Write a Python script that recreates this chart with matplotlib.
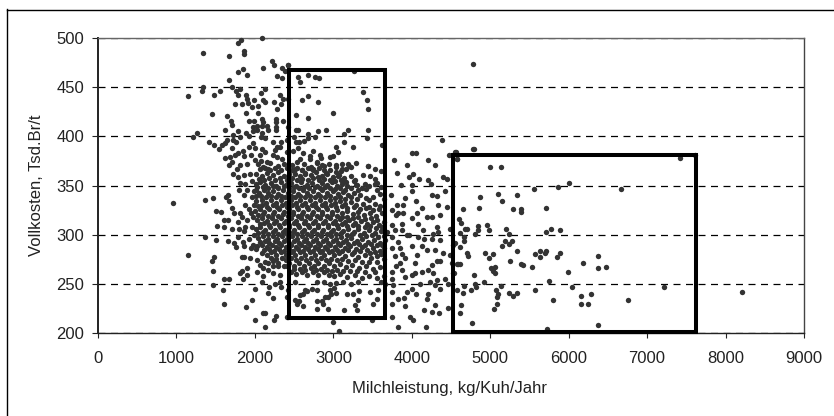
import matplotlib
matplotlib.use("Agg")
import matplotlib.pyplot as plt
from matplotlib.patches import Rectangle
from matplotlib.lines import Line2D

plt.rcParams['font.family'] = ['Liberation Sans', 'DejaVu Sans']

x_label = "Milchleistung, kg/Kuh/Jahr"
y_label = "Vollkosten, Tsd.Br/t"
x_ticks = [0, 1000, 2000, 3000, 4000, 5000, 6000, 7000, 8000, 9000]
y_ticks = [200, 250, 300, 350, 400, 450, 500]
box_low = (2436, 215, 3660, 467)
box_high = (4528, 201, 7628, 381)

upper_left = [(1343,485),(1675,482),(1789,495),(1819,498),(2091,500),(1866,487),(1866,484),(2214,477),(2248,473),(2108,470),(2342,470),(2423,473),(2384,466),(1849,468),(1781,465),(1900,462),(2278,461),(2342,459),(1675,457),(1343,450),(1326,446),(1551,446),(1483,442),(1152,441),(1708,450),(1760,446),(1810,448),(1781,442),(2125,448),(2074,444),(1883,442),(1900,438),(1985,437),(1917,434),(2108,437),(2125,435),(2320,442),(2354,438),(2423,438),(1747,433),(1832,433),(1968,430),(2040,431),(2248,435),(2338,433),(2282,428),(1449,423),(1649,421),(1883,424),(2040,424),(1696,416),(1713,412),(1921,416),(1989,416),(2091,418),(2108,415),(2265,418),(2265,415),(2354,416),(1972,410),(2023,411),(2091,411),(2151,411),(2265,410),(2265,406),(2163,406),(2423,409),(1623,406),(1781,405),(1726,401),(1883,403),(1981,405),(2023,406),(2091,403),(1929,400),(2074,399),(2129,398),(1258,403),(1207,399),(1640,396),(1726,396),(1755,394),(1810,399),(1415,394),(1483,391),(1585,391),(1619,393),(1547,387),(1981,393),(1929,389),(2002,388),(2227,394),(2338,394),(2405,396),(2278,389),(2320,389),(2257,386),(1708,388),(1853,385),(1789,383),(1747,381),(1683,379),(1623,378),(1866,380),(1951,381),(2091,387),(2129,384),(2066,381),(2002,376),(2074,375),(2150,374),(2227,381),(2278,379),(2342,377),(2405,384),(1713,374),(1670,371),(1810,371),(1900,372),(1768,367),(2108,369),(2172,367),(1855,361),(1790,359),(1720,362),(1935,362),(1960,355),(1880,352),(1810,353)]

lower_left = [(960,332),(1360,335),(1466,337),(1632,338),(1662,340),(1500,324),(1568,323),(1670,334),(1704,327),(1738,322),(1653,315),(1611,315),(1517,309),(1602,308),(1708,306),(1789,313),(1798,306),(1874,308),(1866,304),(1360,298),(1500,295),(1657,294),(1734,292),(1781,298),(1760,287),(1853,293),(1862,288),(1152,279),(1483,277),(1449,273),(1466,263),(1606,255),(1674,255),(1466,249),(1590,244),(1606,230),(1883,226),(1968,234),(2002,245),(1832,277),(1866,277),(1934,276),(1900,266),(1840,263),(1815,261),(1900,259),(1849,255),(2023,262),(2108,258),(2091,252),(2180,247),(2163,241),(2231,236),(2108,220),(2133,220),(2265,217),(2248,213),(2002,213),(2125,206),(2405,216),(2405,237),(2427,244),(2333,247),(2257,250),(2320,252),(2320,259),(2235,261),(2172,264),(2108,266),(2066,269),(2023,274),(2129,272),(2235,273),(2299,268),(2405,268),(1800,345),(1855,340),(1905,345),(1960,338),(1990,330),(2010,345),(1880,330),(1925,326),(1950,322),(1975,318),(1905,315),(1960,308),(1985,300),(1930,296),(1975,290),(2010,285),(1945,286),(1810,322),(1840,318)]

core = [
(2480,385),(2610,383),(2700,380),(2830,381),(2960,379),(3060,384),
(2040,372),(2190,373),(2290,370),(2370,372),(2470,371),(2540,374),(2620,372),(2710,369),(2790,373),(2880,370),(2950,372),(3040,369),(3110,372),(3200,370),(3290,373),(3440,370),
(2020,362),(2090,360),(2160,363),(2230,361),(2300,364),(2370,360),(2440,362),(2500,365),(2570,360),(2640,363),(2710,361),(2780,364),(2850,360),(2920,362),(3000,359),(3070,361),(3140,358),(3230,360),(3380,361),
(2010,352),(2070,354),(2130,351),(2200,353),(2265,350),(2330,354),(2400,351),(2465,353),(2530,350),(2590,354),(2660,351),(2725,353),(2790,350),(2855,353),(2915,351),(2985,354),(3045,350),(3110,352),(3180,349),(3290,351),(3360,347),(3455,350),(3535,352),(3610,348),
(1990,344),(2050,342),(2110,345),(2170,342),(2235,344),(2295,341),(2360,345),(2420,342),(2485,344),(2545,341),(2610,345),(2670,342),(2735,344),(2800,341),(2860,345),(2925,342),(2990,344),(3055,341),(3120,343),(3190,340),(3260,342),(3340,340),(3420,337),(3500,338),(3590,341),(3640,336),
(2020,334),(2085,335),(2145,332),(2205,335),(2270,332),(2330,335),(2395,332),(2455,335),(2520,332),(2580,335),(2645,332),(2705,335),(2770,332),(2830,335),(2895,332),(2955,335),(3020,332),(3085,334),(3150,331),(3225,333),(3295,330),(3380,331),(3460,328),(3530,331),(3600,329),
(2000,324),(2060,326),(2120,323),(2180,326),(2245,323),(2305,326),(2365,323),(2430,326),(2490,323),(2550,326),(2615,323),(2675,326),(2735,323),(2800,326),(2860,323),(2925,326),(2985,323),(3050,325),(3110,322),(3175,324),(3245,321),(3320,323),(3395,320),(3470,322),(3545,319),(3620,322),
(2030,315),(2090,317),(2150,314),(2215,317),(2275,314),(2335,317),(2400,314),(2460,317),(2520,314),(2585,317),(2645,314),(2705,317),(2770,314),(2830,317),(2890,314),(2955,317),(3015,314),(3080,316),(3145,313),(3205,315),(3280,312),(3350,314),(3430,311),(3505,313),(3580,310),(3650,313),
(2010,306),(2070,308),(2130,305),(2195,308),(2255,305),(2315,308),(2380,305),(2440,308),(2500,305),(2565,308),(2625,305),(2685,308),(2750,305),(2810,308),(2870,305),(2935,308),(2995,305),(3060,307),(3125,304),(3190,306),(3260,303),(3310,306),(3385,302),(3450,305),(3530,302),(3610,304),(3690,303),
(2040,297),(2100,299),(2165,296),(2225,299),(2285,296),(2350,299),(2410,296),(2470,299),(2535,296),(2595,299),(2655,296),(2720,299),(2780,296),(2840,299),(2905,296),(2965,299),(3030,296),(3095,298),(3160,295),(3225,297),(3300,294),(3370,296),(3445,293),(3520,295),(3590,292),(3660,295),
(2030,288),(2090,290),(2150,287),(2215,290),(2275,287),(2335,290),(2400,287),(2460,290),(2520,287),(2585,290),(2645,287),(2705,290),(2770,287),(2830,290),(2890,287),(2955,290),(3015,287),(3080,289),(3150,286),(3215,288),(3290,285),(3360,287),(3430,284),(3510,286),(3590,283),(3650,286),
(2090,281),(2150,279),(2210,282),(2270,279),(2330,282),(2395,279),(2455,282),(2515,279),(2580,282),(2640,279),(2700,282),(2765,279),(2825,282),(2885,279),(2950,282),(3010,279),(3075,281),(3150,278),(3235,280),(3320,277),(3400,279),(3480,276),(3560,278),(3640,275),
(2170,271),(2235,268),(2300,271),(2370,268),(2430,271),(2495,268),(2560,271),(2620,268),(2685,271),(2750,268),(2810,271),(2875,268),(2940,271),(3005,268),(3080,270),(3160,267),(3240,269),(3330,266),(3420,268),(3500,265),(3600,267),
(2460,262),(2530,260),(2600,262),(2670,259),(2740,262),(2810,259),(2880,262),(2950,259),(3010,258),(3090,260),(3180,257),(3270,259),(3360,256),(3450,258),(3560,256),(3640,258),
(2510,252),(2790,252),(2880,252),(2960,250),(3040,251),(3120,252),(3230,250),(3310,252),(3610,252),(3660,250),
(2960,244),(3010,246),(3040,241),
]

core_fill = [
(2060,367),(2125,368),(2195,366),(2260,368),(2330,366),(2405,368),(2470,366),(2540,368),(2605,366),(2675,368),(2745,366),(2815,368),(2885,366),(2960,366),(3030,364),(3100,365),
(2050,357),(2115,356),(2185,358),(2255,356),(2325,358),(2405,356),(2470,358),(2535,356),(2605,357),(2675,356),(2745,358),(2815,356),(2885,357),(2955,356),(3025,355),(3095,356),(3165,354),(3260,355),
(2030,348),(2100,348),(2165,347),(2230,349),(2300,347),(2365,349),(2430,347),(2500,348),(2565,347),(2630,348),(2695,347),(2760,348),(2825,347),(2890,348),(2955,347),(3020,346),(3085,347),(3150,345),(3230,347),(3320,345),(3420,346),(3560,345),
(2020,339),(2080,339),(2140,338),(2205,339),(2265,338),(2330,339),(2390,338),(2455,339),(2515,338),(2580,339),(2640,338),(2705,339),(2770,338),(2830,339),(2895,338),(2960,339),(3025,337),(3090,338),(3155,336),(3225,338),(3300,336),(3460,335),
(2035,329),(2095,330),(2160,328),(2225,330),(2285,328),(2350,330),(2415,328),(2475,330),(2535,328),(2600,330),(2660,328),(2725,330),(2785,328),(2850,330),(2910,328),(2975,330),(3040,328),(3105,329),(3175,327),(3260,328),(3340,326),(3420,327),(3500,325),(3580,326),
(2040,320),(2105,321),(2170,319),(2230,321),(2295,319),(2355,321),(2420,319),(2480,321),(2545,319),(2605,321),(2670,319),(2730,321),(2795,319),(2855,321),(2920,319),(2980,321),(3045,319),(3110,318),(3180,318),(3250,317),(3320,318),(3405,316),(3480,317),(3560,315),
(2060,311),(2120,312),(2185,310),(2245,312),(2310,310),(2370,312),(2435,310),(2495,312),(2555,310),(2620,312),(2680,310),(2745,312),(2805,310),(2865,312),(2930,310),(2990,312),(3050,310),(3115,311),(3175,309),(3245,310),(3315,309),(3400,308),(3470,309),(3545,307),(3625,308),
(2045,302),(2105,303),(2170,301),(2230,303),(2290,301),(2355,303),(2415,301),(2480,303),(2540,301),(2600,303),(2665,301),(2725,303),(2790,301),(2850,303),(2915,301),(2975,303),(3035,301),(3100,302),(3170,300),(3240,301),(3340,300),(3415,299),(3490,300),(3570,298),(3640,299),
(2060,293),(2125,294),(2185,292),(2250,294),(2310,292),(2375,294),(2435,292),(2495,294),(2560,292),(2620,294),(2680,292),(2745,294),(2805,292),(2870,294),(2930,292),(2990,294),(3055,292),(3125,293),(3190,291),(3260,292),(3330,291),(3405,290),(3480,291),(3555,289),(3625,290),
(2115,284),(2180,285),(2240,283),(2305,285),(2365,283),(2430,285),(2490,283),(2550,285),(2615,283),(2675,285),(2740,283),(2800,285),(2860,283),(2925,285),(2985,283),(3045,284),(3115,283),(3185,284),(3260,282),(3340,283),(3465,281),(3530,282),(3610,280),
(2200,276),(2265,275),(2340,276),(2400,274),(2465,276),(2530,274),(2590,276),(2655,274),(2720,276),(2780,274),(2845,276),(2910,274),(2975,275),(3045,274),(3115,275),(3190,273),(3280,274),(3370,272),(3460,272),(3555,272),
(2500,265),(2570,265),(2640,264),(2710,266),(2780,264),(2845,265),(2915,264),(2985,263),(3050,264),(3125,263),(3210,263),(3300,263),(3400,262),(3530,262),
]

lower_box = [(2534,230),(2619,227),(2789,224),(2938,224),(3141,223),(3307,223),(3511,230),(3554,235),(3277,228),(3320,234),(3256,240),(3171,240),(2938,237),(2895,237),(2853,233),(2874,230),(2789,233),(2576,239),(2640,244),(2725,245),(2789,244),(2512,234),(3575,244),(3469,242),(2660,243),(2610,240),(2560,233),(3001,211),(3498,213),(3078,202),(2427,216),(2965,240),(3330,243)]

upper_box = [(2427,473),(2547,460),(2683,462),(2767,460),(2823,459),(2576,455),(3269,466),(3380,445),(3430,437),(3447,428),(2683,441),(2597,437),(2806,435),(2993,424),(2525,422),(2683,419),(3447,406),(2525,406),(2546,406),(2806,405),(2908,406),(3184,406),(3133,402),(2683,402),(2674,398),(2631,395),(2767,399),(2504,399),(2525,394),(2563,394),(3430,398),(3133,394),(3031,389),(3256,389),(3617,391),(2546,388),(2738,385),(2993,380),(2576,377),(2704,377),(2840,378),(3447,370),(3533,367),(3609,365),(3031,371),(3184,372),(3222,369),(3116,367),(3160,367),(2853,371),(2789,374),(3464,360),(3533,357),(3554,353),(3277,356),(3299,351),(3405,352),(3065,360),(2980,356),(3107,356),(2912,363),(2810,359),(2704,368),(2597,366),(2512,367),(2512,362),(2640,362),(2746,367)]

mid_right = [(4786,474),(4387,396),(4561,384),(4786,387),(4472,381),(3999,383),(4055,383),(4582,377),(3779,376),(4213,376),(4302,371),(3936,371),(3813,363),(4021,362),(3970,359),(4093,357),(4404,359),(4455,357),(4213,356),(4247,352),(3864,351),(4000,351),(3737,340),(4008,344),(4255,340),(4319,339),(4425,344),(3915,337),(4051,334),(3894,330),(3809,330),(4331,330),(4455,328),(3745,325),(3894,322),(3830,322),(4127,327),(4000,317),(4064,322),(4255,318),(4361,320),(4191,318),(3872,311),(4085,311),(3745,310),(3872,305),(4149,305),(4319,308),(4340,303),(4276,301),(4489,306),(3936,300),(3745,298),(4157,296),(4255,296),(4361,295),(4127,288),(4191,284),(4000,288),(4064,279),(4297,284),(4404,281),(4489,279),(3851,286),(3745,286),(3787,278),(3915,276),(3851,271),(4042,271),(4319,273),(4361,273),(4255,269),(4510,271),(4595,270),(3745,262),(3872,264),(4212,264),(4127,262),(4042,261),(3915,257),(4000,259),(3745,255),(4276,261),(4319,254),(4425,255),(4531,261),(4234,252),(4297,249),(4361,245),(4467,250),(3766,249),(3745,242),(4000,245),(3936,242),(3830,235),(3906,236),(4212,240),(4191,235),(3753,229),(3915,227),(4297,228),(4161,223),(4255,221),(4349,220),(4467,225),(3745,216),(3979,216),(4021,213),(3830,206),(4178,206),(3800,320),(3780,305),(3820,293),(3960,300),(4080,298),(3880,280),(3800,268),(4100,250),(4060,240)]

far_right = [(4787,387),(4554,384),(4575,377),(7414,378),(7605,381),(4996,369),(5136,369),(6003,353),(5863,348),(5552,346),(6666,346),(5098,341),(5344,340),(4872,338),(5153,334),(4855,327),(4647,326),(5289,326),(5395,326),(5395,323),(5710,327),(4596,316),(4630,312),(4962,310),(4838,309),(4681,306),(4703,306),(4979,305),(5204,306),(5778,306),(5884,305),(5710,303),(4838,305),(4809,301),(4609,302),(5238,301),(4660,298),(4660,294),(5187,294),(5272,294),(5238,291),(5153,288),(4554,292),(4520,289),(4613,287),(5344,283),(5638,283),(5710,283),(5693,281),(5570,280),(5638,277),(5884,281),(5850,277),(4703,281),(4720,278),(4928,281),(5030,280),(4979,276),(6369,278),(6177,271),(5255,273),(5395,270),(5412,269),(5536,267),(6369,266),(6475,267),(4575,270),(4613,270),(5013,266),(5064,267),(5030,263),(5064,261),(5986,262),(4787,259),(4541,261),(4923,252),(5744,253),(4805,250),(5136,248),(4822,247),(4660,248),(4647,241),(4575,244),(4753,244),(5068,244),(5570,244),(6041,247),(7219,247),(8213,242),(5098,240),(5081,237),(5238,241),(5289,238),(5344,241),(6160,238),(6284,240),(5795,234),(6751,234),(6160,230),(6250,230),(5081,230),(4630,228),(5047,224),(4613,220),(4770,210),(6369,208),(5727,204)]

groups = [upper_left, lower_left, core, core_fill, lower_box, upper_box, mid_right, far_right]

fig = plt.figure(figsize=(8.34, 4.16), dpi=100)
ax = fig.add_axes([98/834, 1 - 333/416, (804 - 98)/834, (333 - 38)/416])

for g in groups:
    ax.scatter([p[0] for p in g], [p[1] for p in g], s=15, color='#333333', linewidths=0, zorder=3, clip_on=False)

for (x0, y0, x1, y1) in (box_low, box_high):
    ax.add_patch(Rectangle((x0, y0), x1 - x0, y1 - y0, fill=False, edgecolor='black', linewidth=2.9, zorder=4, joinstyle='miter', clip_on=False))

ax.set_xlim(0, 9000)
ax.set_ylim(200, 500)
ax.set_xticks(x_ticks)
ax.set_yticks(y_ticks)
ax.yaxis.grid(True, linestyle=(0, (5.6, 4.4)), color='black', linewidth=0.9)
ax.set_axisbelow(True)
ax.tick_params(axis='y', direction='out', length=4.3, width=0.8, colors='#222222', labelsize=12, pad=5.5)
ax.tick_params(axis='x', direction='out', length=3.6, width=0.8, colors='#222222', labelsize=12, pad=9.5)
for s in ax.spines.values():
    s.set_linewidth(1.0)
    s.set_color('#222222')
ax.spines['left'].set_linewidth(1.4)
ax.spines['top'].set_color('#666666')
ax.spines['right'].set_color('#444444')

fig.text(450/834, 1 - 389/416, x_label, fontsize=12, color='#222222', ha='center', va='center')
fig.text(37/834, 1 - 185/416, y_label, fontsize=12, color='#222222', rotation=90, ha='center', va='center')

fig.add_artist(Line2D([7/834, 7/834], [0, 1 - 9/416], transform=fig.transFigure, color='black', linewidth=1.0))
fig.add_artist(Line2D([6.5/834, 1], [1 - 9.5/416, 1 - 9.5/416], transform=fig.transFigure, color='black', linewidth=1.0))

fig.savefig('out.png', dpi=100)
